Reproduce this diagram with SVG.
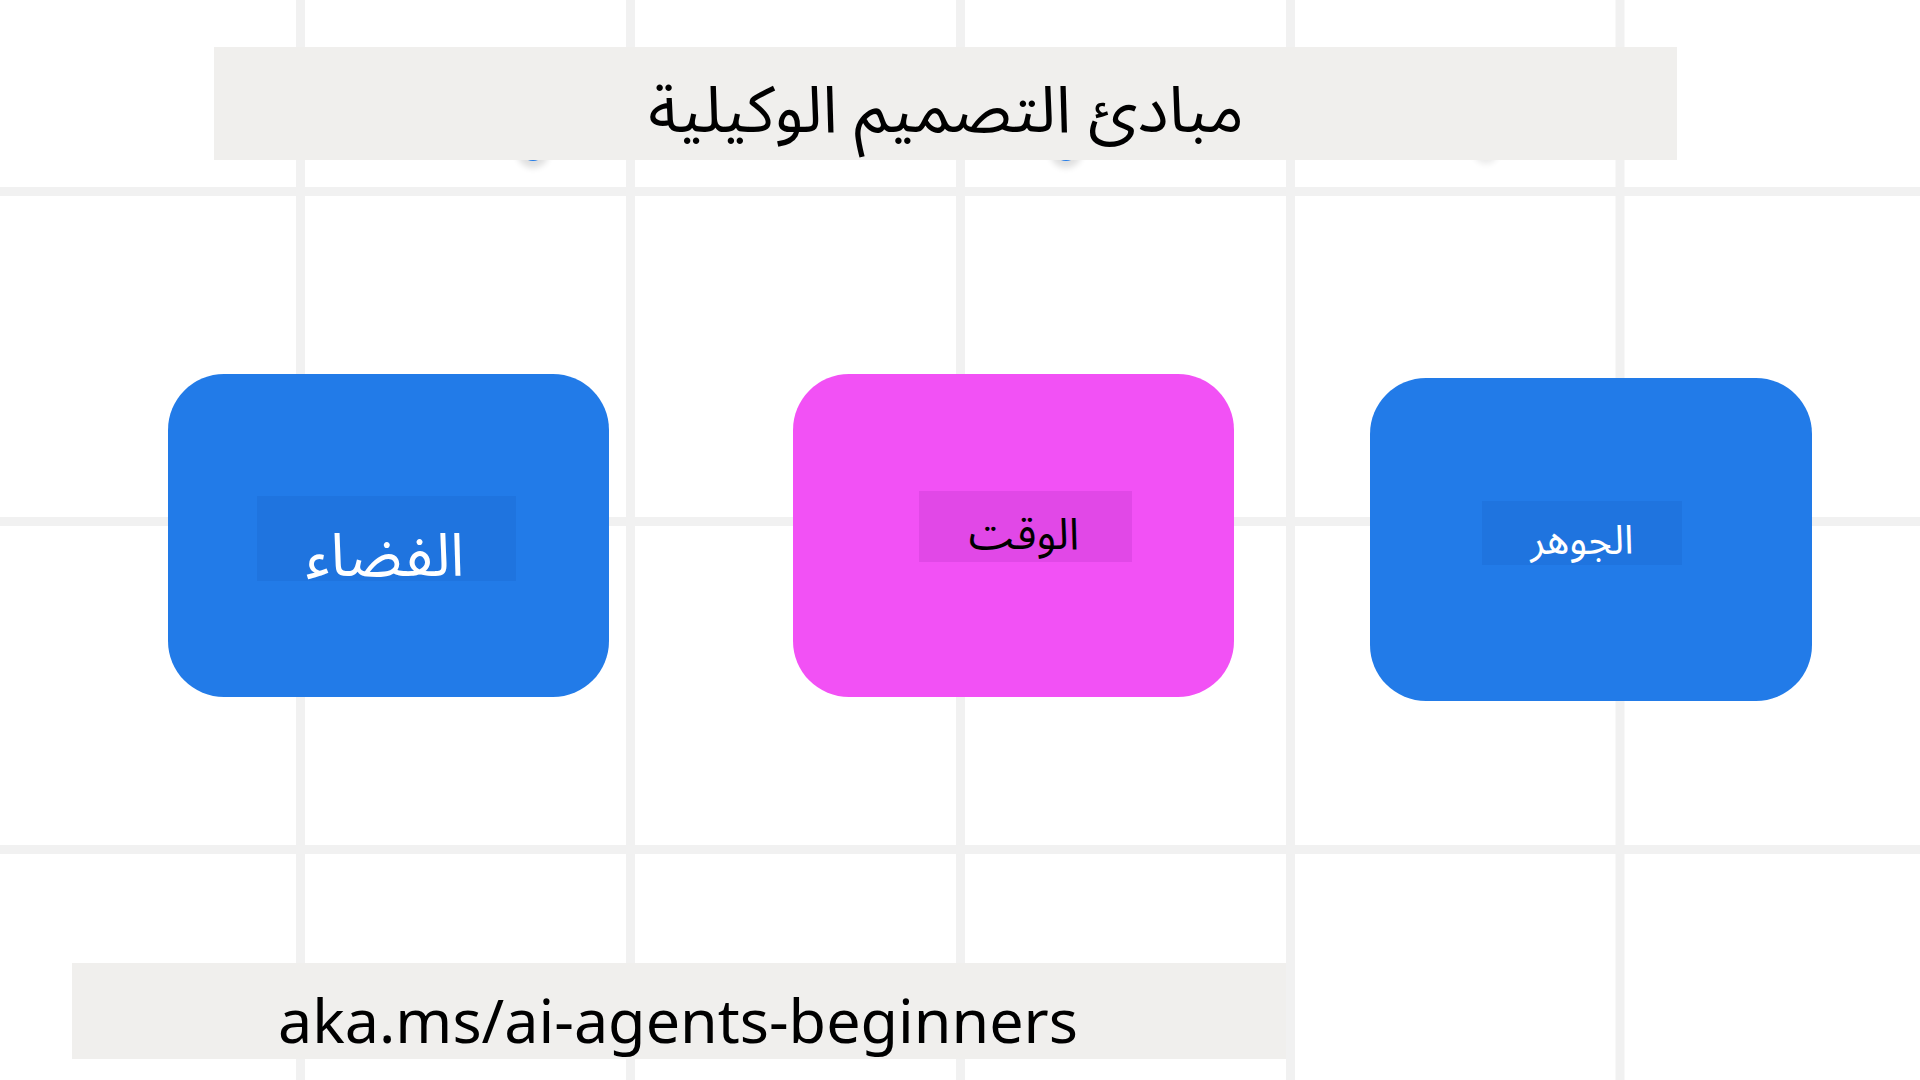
<svg xmlns="http://www.w3.org/2000/svg" width="1920" height="1080" viewBox="0 0 1920 1080">
<style>
.grid line{stroke:#f1f1f1;stroke-width:9}
.panel{fill:#f0efed}
.node-blue{fill:#227be8}
.node-pink{fill:#f251f5}
.lbl-blue{fill:#1f74df}
.lbl-pink{fill:#e148e7}
.ar{font-family:"Noto Sans Arabic","Noto Sans","DejaVu Sans",sans-serif;text-anchor:middle}
.en{font-family:"Noto Sans","Open Sans",sans-serif;text-anchor:middle}
</style>
<defs>
<filter id="soft" x="-50%" y="-50%" width="200%" height="200%"><feGaussianBlur stdDeviation="3"/></filter>
</defs>
<rect width="1920" height="1080" fill="#ffffff"/>
<g class="grid">
<line x1="300.5" y1="0" x2="300.5" y2="1080"/>
<line x1="630.5" y1="0" x2="630.5" y2="1080"/>
<line x1="960.5" y1="0" x2="960.5" y2="1080"/>
<line x1="1290.5" y1="0" x2="1290.5" y2="1080"/>
<line x1="1620" y1="0" x2="1620" y2="1080"/>
<line x1="0" y1="191.5" x2="1920" y2="191.5"/>
<line x1="0" y1="521.5" x2="1920" y2="521.5"/>
<line x1="0" y1="849.5" x2="1920" y2="849.5"/>
</g>
<g id="hidden-marks">
<circle cx="533" cy="152" r="16" fill="#000" opacity="0.12" filter="url(#soft)"/>
<circle cx="533" cy="148" r="13" fill="#227be8"/>
<circle cx="1066" cy="152" r="16" fill="#000" opacity="0.12" filter="url(#soft)"/>
<circle cx="1066" cy="148" r="13" fill="#227be8"/>
<circle cx="1486" cy="152" r="12" fill="#000" opacity="0.08" filter="url(#soft)"/>
</g>
<g id="title">
<rect class="panel" x="214" y="47" width="1463" height="113"/>
<text class="ar" x="946" y="132" font-size="65" fill="#000">مبادئ التصميم الوكيلية</text>
</g>
<g id="connectors"></g>
<g id="node-space">
<rect class="node-blue" x="168" y="374" width="441" height="323" rx="56"/>
<rect class="lbl-blue" x="257" y="496" width="259" height="85"/>
<text class="ar" x="385" y="576" font-size="60" fill="#fff">الفضاء</text>
</g>
<g id="node-time">
<rect class="node-pink" x="793" y="374" width="441" height="323" rx="56"/>
<rect class="lbl-pink" x="919" y="491" width="213" height="71"/>
<text class="ar" x="1024" y="549" font-size="44" fill="#000">الوقت</text>
</g>
<g id="node-core">
<rect class="node-blue" x="1370" y="378" width="442" height="323" rx="56"/>
<rect class="lbl-blue" x="1482" y="501" width="200" height="64"/>
<text class="ar" x="1582" y="554" font-size="40" fill="#fff">الجوهر</text>
</g>
<g id="footer">
<rect class="panel" x="72" y="963" width="1214" height="96"/>
<text class="en" x="678" y="1043" font-size="61" fill="#000">aka.ms/ai-agents-beginners</text>
</g>
</svg>
